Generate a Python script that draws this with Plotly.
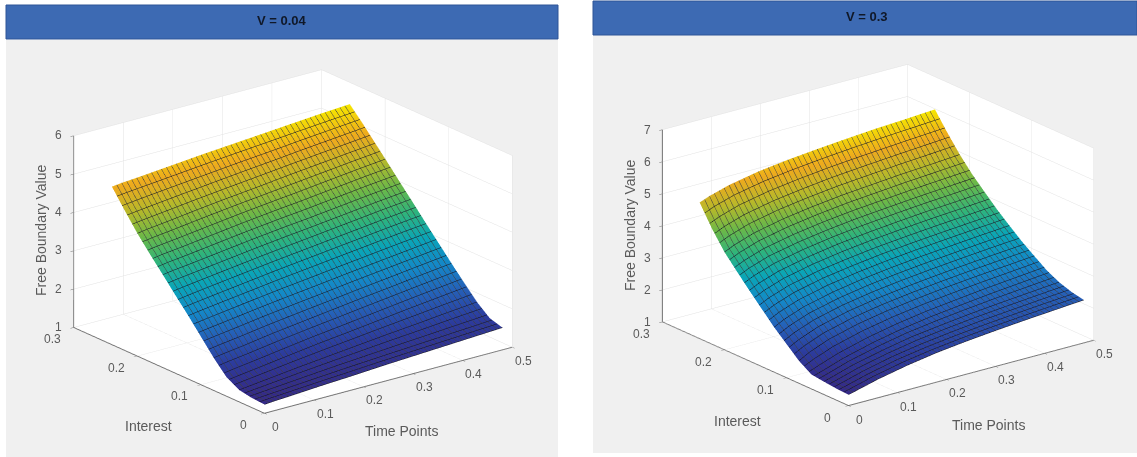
import plotly.graph_objects as go

time_points = [0, 0.02, 0.06, 0.12, 0.18, 0.24, 0.30, 0.36, 0.42, 0.48]
interest = [0, 0.02, 0.04, 0.06, 0.08, 0.10, 0.12, 0.14, 0.16, 0.18, 0.20, 0.22, 0.24]
time_ticks = [0, 0.1, 0.2, 0.3, 0.4, 0.5]
interest_ticks = [0, 0.1, 0.2, 0.3]
z_ticks_v004 = [1, 2, 3, 4, 5, 6]
z_ticks_v03 = [1, 2, 3, 4, 5, 6, 7]

z_v004 = [
    [1.23,1.25,1.28,1.33,1.37,1.42,1.46,1.50,1.54,1.58],
    [1.25,1.27,1.31,1.37,1.43,1.48,1.53,1.58,1.63,1.68],
    [1.31,1.34,1.40,1.49,1.57,1.65,1.73,1.80,1.88,1.95],
    [1.50,1.54,1.61,1.72,1.83,1.92,2.02,2.12,2.21,2.30],
    [1.85,1.89,1.96,2.08,2.18,2.28,2.38,2.47,2.57,2.66],
    [2.25,2.29,2.36,2.47,2.57,2.66,2.76,2.85,2.94,3.03],
    [2.65,2.69,2.76,2.86,2.96,3.05,3.14,3.23,3.32,3.40],
    [3.03,3.07,3.14,3.24,3.34,3.43,3.52,3.61,3.70,3.78],
    [3.42,3.46,3.52,3.62,3.72,3.81,3.89,3.98,4.07,4.15],
    [3.80,3.84,3.90,4.00,4.10,4.19,4.27,4.36,4.45,4.53],
    [4.20,4.24,4.30,4.40,4.49,4.57,4.66,4.74,4.82,4.90],
    [4.65,4.68,4.74,4.82,4.90,4.98,5.05,5.13,5.20,5.27],
    [5.12,5.15,5.19,5.26,5.33,5.39,5.45,5.51,5.57,5.62],
]
z_v03 = [
    [1.34,1.42,1.58,1.77,1.92,2.03,2.12,2.20,2.27,2.34],
    [1.36,1.44,1.61,1.82,1.97,2.09,2.19,2.27,2.35,2.42],
    [1.40,1.49,1.68,1.89,2.07,2.19,2.30,2.39,2.47,2.55],
    [1.45,1.55,1.76,2.01,2.20,2.35,2.46,2.57,2.66,2.75],
    [1.70,1.87,2.12,2.36,2.53,2.66,2.77,2.86,2.94,3.02],
    [2.05,2.21,2.45,2.68,2.84,2.96,3.06,3.15,3.23,3.30],
    [2.40,2.56,2.79,3.01,3.17,3.29,3.39,3.47,3.55,3.62],
    [2.80,2.95,3.17,3.38,3.52,3.64,3.73,3.81,3.88,3.95],
    [3.20,3.35,3.56,3.76,3.91,4.02,4.11,4.19,4.25,4.32],
    [3.62,3.76,3.97,4.16,4.30,4.41,4.49,4.57,4.64,4.70],
    [4.05,4.19,4.40,4.60,4.74,4.85,4.93,5.01,5.07,5.14],
    [4.60,4.74,4.94,5.13,5.26,5.37,5.45,5.52,5.59,5.65],
    [5.25,5.37,5.55,5.73,5.85,5.94,6.02,6.09,6.14,6.20],
]

parula = [[0.0,"#352a87"],[0.11,"#2c3c9e"],[0.22,"#2560b8"],[0.33,"#1488c8"],[0.44,"#0aa5b8"],
          [0.55,"#2fb47c"],[0.66,"#6cb848"],[0.77,"#b8b82a"],[0.88,"#eeaa1e"],[1.0,"#f5e600"]]

W, H = 1137, 457
FONT = "Liberation Sans"
TXT = "#5a5a5a"
GRID = "#e2e2e2"

def surf(z, scene):
    return go.Surface(
        x=time_points, y=interest, z=z, scene=scene, colorscale=parula, showscale=False,
        lighting=dict(ambient=1, diffuse=0, specular=0, roughness=1, fresnel=0),
        contours=dict(
            x=dict(show=True, start=0, end=0.48, size=0.01, color="#404040", width=2),
            y=dict(show=True, start=0, end=0.24, size=0.008, color="#101020", width=1),
        ),
        hoverinfo="skip",
    )

def axis(rng, tickvals):
    return dict(range=rng, tickvals=tickvals, title=dict(text=""), showticklabels=False,
                showbackground=True, backgroundcolor="white", gridcolor=GRID, gridwidth=1,
                showline=True, linecolor="#707070", linewidth=2, zeroline=False, ticks="outside",
                ticklen=4, tickcolor="#707070", showspikes=False)

def tick_notes(zticks):
    out = []
    zmax = zticks[-1]
    def n(x, y, z, text, dx, dy):
        out.append(dict(x=x, y=y, z=z, text=text, showarrow=False, xshift=dx, yshift=dy,
                        font=dict(family=FONT, size=12, color=TXT)))
    for t in time_ticks:
        n(t, 0, 1, str(t), 11, -14)
    for t in interest_ticks:
        n(0, t, 1, str(t), -21, -12)
    for t in zticks:
        n(0, 0.3, min(t, zmax - 0.001), str(t), -15, 0)
    return out

def scene(dom, zmax, zticks, ax, ay):
    D = 1.5
    return dict(
        domain=dict(x=[dom[0]/W, dom[1]/W], y=[1-dom[3]/H, 1-dom[2]/H]),
        xaxis=axis([0,0.5],time_ticks),
        yaxis=axis([0,0.3],interest_ticks),
        zaxis=axis([1,zmax],zticks),
        annotations=tick_notes(zticks),
        aspectmode="manual", aspectratio=dict(x=ax,y=ay,z=0.98),
        camera=dict(projection=dict(type="orthographic"), up=dict(x=0,y=0,z=1),
                    center=dict(x=0,y=0,z=0),
                    eye=dict(x=-0.572*D,y=-0.743*D,z=0.346*D)),
    )

fig = go.Figure([surf(z_v004,"scene"), surf(z_v03,"scene2")])

shapes = [
    dict(type="rect",xref="paper",yref="paper",x0=6/W,x1=558/W,y0=1-457/H,y1=1-40/H,fillcolor="#f0f0f0",line_width=0,layer="below"),
    dict(type="rect",xref="paper",yref="paper",x0=593/W,x1=1137/W,y0=1-453/H,y1=1-35/H,fillcolor="#f0f0f0",line_width=0,layer="below"),
    dict(type="rect",xref="paper",yref="paper",x0=6/W,x1=558/W,y0=1-39/H,y1=1-5/H,fillcolor="#3d6ab3",line=dict(color="#2f5597",width=1)),
    dict(type="rect",xref="paper",yref="paper",x0=593/W,x1=1137/W,y0=1-35/H,y1=1-1/H,fillcolor="#3d6ab3",line=dict(color="#2f5597",width=1)),
]
def note(text,x,y,size=14,angle=0,color=TXT,bold=False):
    return dict(text=f"<b>{text}</b>" if bold else text,x=x/W,y=1-y/H,xref="paper",yref="paper",showarrow=False,
                font=dict(family=FONT,size=size,color=color),textangle=angle,xanchor="center",yanchor="middle")
annots = [
    note("V = 0.04",282,20,13,color="#101828",bold=True),
    note("V = 0.3",867,16,13,color="#101828",bold=True),
    note("Free Boundary Value",41,231,14,-90),
    note("Interest",148,426,14),
    note("Time Points",401,431,14),
    note("Free Boundary Value",630,226,14,-90),
    note("Interest",737,421,14),
    note("Time Points",988,425,14),
]
fig.update_layout(
    width=W,height=H,margin=dict(l=0,r=0,t=0,b=0),paper_bgcolor="white",showlegend=False,
    shapes=shapes,annotations=annots,
    scene=scene((17,569,32.5,449.5),6,z_ticks_v004,1.5,1.5),
    scene2=scene((619,1137,26,444),7,z_ticks_v03,1.48,1.46),
)
fig.write_html("out.html", config=dict(displayModeBar=False),
               post_script="document.body.style.margin='0';document.body.style.overflow='hidden';")
